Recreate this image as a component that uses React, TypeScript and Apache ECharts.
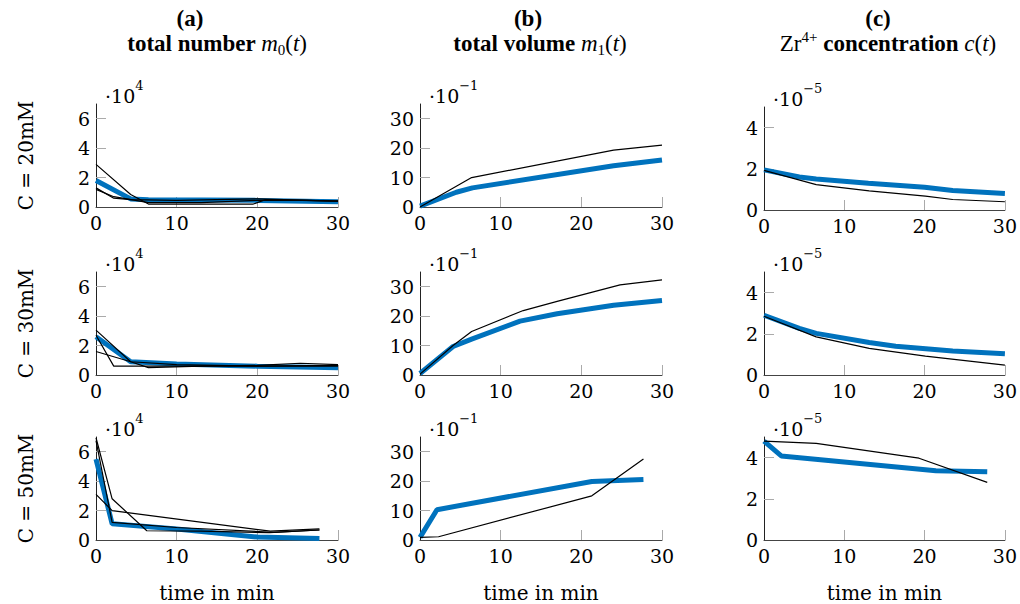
import React, { useEffect, useRef } from "react";
import * as echarts from "echarts";

const FONT = "DejaVu Serif";
const TFONT = "Liberation Serif";

// x axis (time in min)
const timeTicks = [0, 10, 20, 30];
const rowLabels = ["C = 20mM", "C = 30mM", "C = 50mM"];

// (a) total number m0(t), ×10^4
const numTicks = [0, 2, 4, 6];
const numSim20 = [[0, 1.8], [4.3, 0.55], [6.5, 0.5], [20, 0.45], [30, 0.35]];
const numExp20a = [[0, 2.9], [4.3, 0.85], [6.5, 0.2], [19.5, 0.2], [21, 0.5], [30, 0.4]];
const numExp20b = [[0, 1.3], [2.2, 0.6], [4.3, 0.5], [10, 0.45], [20, 0.55], [30, 0.4]];
const numExp20c = [[0, 1.2], [2.2, 0.7], [6.5, 0.3], [13, 0.3], [20, 0.45], [26, 0.45], [30, 0.4]];
const numSim30 = [[0, 2.6], [4.3, 0.9], [10, 0.75], [20, 0.6], [30, 0.5]];
const numExp30a = [[0, 3.05], [4.3, 0.9], [10, 0.7], [20, 0.6], [30, 0.6]];
const numExp30b = [[0, 2.7], [2.2, 0.6], [10, 0.6], [20, 0.6], [30, 0.65]];
const numExp30c = [[0, 1.6], [4.3, 0.9], [6.5, 0.5], [13, 0.6], [20, 0.65], [25.3, 0.8], [30, 0.7]];
const numSim50 = [[0, 5.5], [2, 1.1], [10, 0.75], [20, 0.2], [27.7, 0.1]];
const numExp50a = [[0, 6.95], [2, 2.8], [6.3, 0.63], [13, 0.6], [21.5, 0.5], [27.7, 0.68]];
const numExp50b = [[0, 6.75], [2, 1.2], [10, 0.85], [22, 0.52], [27.7, 0.68]];
const numExp50c = [[0, 3.1], [2, 2.0], [21.6, 0.6], [27.7, 0.75]];

// (b) total volume m1(t), ×10^-1
const volTicks = [0, 10, 20, 30];
const volSim20 = [[0, 0.3], [4.5, 5], [6.5, 6.5], [24, 14], [30, 16]];
const volExp20 = [[0, 0], [6.4, 10], [24, 19.3], [30, 21]];
const volSim30 = [[0, 0.5], [4.1, 9.7], [6.4, 12.2], [12.4, 18.3], [17, 20.8], [24, 23.7], [30, 25.3]];
const volExp30 = [[0, 0.3], [4.1, 10], [6.4, 14.8], [12.8, 21.9], [17, 25], [24.8, 30.6], [30, 32.3]];
const volSim50 = [[0, 0.9], [2.1, 10.3], [21.3, 19.9], [27.7, 20.6]];
const volExp50 = [[0, 0.9], [2.3, 1.1], [21.3, 15], [27.7, 27.5]];

// (c) Zr4+ concentration c(t), ×10^-5
const conTicks = [0, 2, 4];
const conSim20 = [[0, 1.95], [4.4, 1.6], [6.5, 1.5], [13, 1.3], [20, 1.1], [23.5, 0.95], [30, 0.8]];
const conExp20 = [[0, 1.92], [6.5, 1.23], [13.1, 0.93], [20.1, 0.67], [23.5, 0.51], [30, 0.4]];
const conSim30 = [[0, 2.9], [4.4, 2.26], [6.5, 2.02], [13.1, 1.58], [16.4, 1.4], [23.5, 1.16], [30, 1.03]];
const conExp30 = [[0, 2.85], [6.5, 1.85], [13.1, 1.29], [20.1, 0.92], [30, 0.48]];
const conSim50 = [[0, 4.8], [2.15, 4.08], [21.4, 3.36], [27.8, 3.31]];
const conExp50 = [[0, 4.8], [6.5, 4.69], [19.3, 3.97], [27.8, 2.8]];

const panels = [
  [
    { sim: numSim20, exp: [numExp20a, numExp20b, numExp20c] },
    { sim: volSim20, exp: [volExp20] },
    { sim: conSim20, exp: [conExp20] },
  ],
  [
    { sim: numSim30, exp: [numExp30a, numExp30b, numExp30c] },
    { sim: volSim30, exp: [volExp30] },
    { sim: conSim30, exp: [conExp30] },
  ],
  [
    { sim: numSim50, exp: [numExp50a, numExp50b, numExp50c] },
    { sim: volSim50, exp: [volExp50] },
    { sim: conSim50, exp: [conExp50] },
  ],
];

const cols = [
  { left: 96, max: 7, ticks: numTicks, exp: "4", tops: [104, 272, 437], titleX: 217, tagX: 190 },
  { left: 420, max: 35, ticks: volTicks, exp: "\u22121", tops: [104, 272, 437], titleX: 540, tagX: 528 },
  { left: 764, max: 5, ticks: conTicks, exp: "\u22125", tops: [107, 272, 437], titleX: 888, tagX: 878 },
];
const GRID_W = 242;
const GRID_H = 103;
const BLUE = "#0072BD";

function buildOption() {
  const grid: any[] = [];
  const xAxis: any[] = [];
  const yAxis: any[] = [];
  const series: any[] = [];
  const graphic: any[] = [];
  let idx = 0;
  for (let r = 0; r < 3; r++) {
    for (let c = 0; c < 3; c++) {
      const col = cols[c];
      const top = col.tops[r];
      grid.push({ left: col.left, top, width: GRID_W, height: GRID_H });
      xAxis.push({
        type: "value",
        gridIndex: idx,
        min: 0,
        max: 30,
        axisLine: { show: true, onZero: false, lineStyle: { color: "#444", width: 1 } },
        axisTick: { show: true, inside: true, length: 10, customValues: timeTicks.filter((v) => v > 0), lineStyle: { color: "#aaa" } },
        axisLabel: { show: true, customValues: timeTicks, fontSize: 19, fontFamily: FONT, color: "#000", margin: 6 },
        splitLine: { show: false },
        name: r === 2 ? "time in min" : "",
        nameLocation: "middle",
        nameGap: 43,
        nameTextStyle: { fontSize: 20, fontFamily: FONT, color: "#000" },
      });
      yAxis.push({
        type: "value",
        gridIndex: idx,
        min: 0,
        max: col.max,
        axisLine: { show: true, onZero: false, lineStyle: { color: "#222", width: 1 } },
        axisTick: { show: true, inside: true, length: 10, customValues: col.ticks.filter((v) => v > 0), lineStyle: { color: "#aaa" } },
        axisLabel: { show: true, customValues: col.ticks, fontSize: 19, fontFamily: FONT, color: "#000", margin: 6 },
        splitLine: { show: false },
      });
      const p = panels[r][c];
      series.push({
        type: "line",
        xAxisIndex: idx,
        yAxisIndex: idx,
        data: p.sim,
        showSymbol: false,
        lineStyle: { color: BLUE, width: 5 },
        z: 2,
      });
      p.exp.forEach((d) => {
        series.push({
          type: "line",
          xAxisIndex: idx,
          yAxisIndex: idx,
          data: d,
          showSymbol: false,
          lineStyle: { color: "#000", width: 1.2 },
          z: 3,
        });
      });
      graphic.push({
        type: "text",
        x: col.left + 9,
        y: top - 12,
        style: {
          text: "{m|\u00b710}{sup|" + col.exp + "}",
          verticalAlign: "middle",
          rich: {
            m: { fontSize: 19, fontFamily: FONT, fill: "#000", verticalAlign: "bottom", lineHeight: 26 },
            sup: { fontSize: 13, fontFamily: FONT, fill: "#000", verticalAlign: "top", lineHeight: 15 },
          },
        },
      });
      idx++;
    }
  }

  // Row labels
  rowLabels.forEach((lab, r) => {
    const top = cols[0].tops[r];
    graphic.push({
      type: "text",
      x: 26,
      y: top + GRID_H / 2,
      rotation: Math.PI / 2,
      style: {
        text: lab,
        fontSize: 20,
        fontFamily: FONT,
        fill: "#000",
        align: "center",
        verticalAlign: "middle",
      },
    });
  });

  // Column titles
  const tags = ["{b|(a)}", "{b|(b)}", "{b|(c)}"];
  const titles = [
    "{b|total number }{i|m}{s|0}{n|(}{i|t}{n|)}",
    "{b|total volume }{i|m}{s|1}{n|(}{i|t}{n|)}",
    "{n|Zr}{p|4+}{b| concentration }{i|c}{n|(}{i|t}{n|)}",
  ];
  const rich = {
    b: { fontSize: 23, fontWeight: "bold", fontFamily: TFONT, fill: "#000", verticalAlign: "middle", lineHeight: 28 },
    n: { fontSize: 23, fontFamily: TFONT, fill: "#000", verticalAlign: "middle", lineHeight: 28 },
    i: { fontSize: 23, fontStyle: "italic", fontFamily: TFONT, fill: "#000", verticalAlign: "middle", lineHeight: 28 },
    s: { fontSize: 15, fontFamily: TFONT, fill: "#000", verticalAlign: "bottom", lineHeight: 20 },
    p: { fontSize: 15, fontFamily: TFONT, fill: "#000", verticalAlign: "top", lineHeight: 18 },
  };
  cols.forEach((col, c) => {
    graphic.push({
      type: "text",
      x: col.tagX,
      y: 18,
      style: { text: tags[c], align: "center", verticalAlign: "middle", rich },
    });
    graphic.push({
      type: "text",
      x: col.titleX,
      y: 43,
      style: { text: titles[c], align: "center", verticalAlign: "middle", rich },
    });
  });

  return {
    animation: false,
    backgroundColor: "#fff",
    textStyle: { fontFamily: FONT },
    grid,
    xAxis,
    yAxis,
    series,
    graphic,
  };
}

export default function App() {
  const ref = useRef<HTMLDivElement>(null);
  useEffect(() => {
    if (!ref.current) return;
    const chart = echarts.init(ref.current, null, { renderer: "svg" });
    chart.setOption(buildOption() as any);
    return () => chart.dispose();
  }, []);
  return (
    <div
      ref={ref}
      style={{ position: "absolute", left: 0, top: 0, width: 1020, height: 604, background: "#fff" }}
    />
  );
}
